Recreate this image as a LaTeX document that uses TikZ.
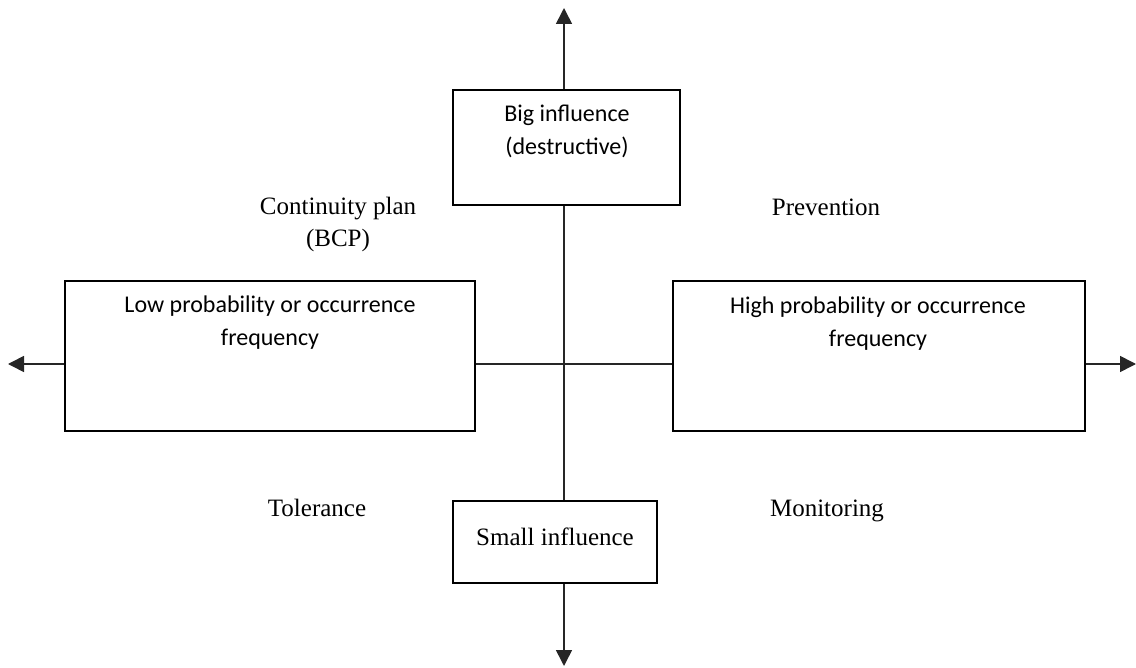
\documentclass[tikz,border=0pt]{standalone}
\usepackage{fontspec}
\setmainfont{Liberation Serif}
\newfontfamily\boxfont{Carlito}
\usetikzlibrary{arrows.meta}
\begin{document}
\begin{tikzpicture}[x=1pt,y=-1pt,
  boxnode/.style={draw=black,line width=1.3pt,rectangle,inner sep=0pt},
  boxtext/.style={font=\boxfont\fontsize{24}{33}\selectfont,align=center,inner sep=0pt},
  serifsmall/.style={font=\fontsize{25}{32}\selectfont,align=center,inner sep=0pt},
  axisline/.style={line width=1.6pt,draw=black!85},
  tipped/.style={axisline,-{Triangle[length=16pt,width=16pt]}}]
\useasboundingbox (0,0) rectangle (1136,668);
\coordinate (c) at (564,364);
\coordinate (tipT) at (564,8);
\coordinate (tipB) at (564,666);
\coordinate (tipL) at (8,364);
\coordinate (tipR) at (1136,364);
% boxes
\node[boxnode,minimum width=227pt,minimum height=115pt] (top) at (566.5,147.5) {};
\node[boxnode,minimum width=410pt,minimum height=150pt] (left) at (270,356) {};
\node[boxnode,minimum width=412pt,minimum height=150pt] (right) at (879,356) {};
\node[boxnode,minimum width=204pt,minimum height=82pt] (bot) at (555,542) {};
% box texts (base = baseline of last line)
\node[boxtext,anchor=base] (toptext) at (567,155) {Big influence\\(destructive)};
\node[boxtext,anchor=base] (lefttext) at (270,346) {Low probability or occurrence\\frequency};
\node[boxtext,anchor=base] (righttext) at (878,347) {High probability or occurrence\\frequency};
\node[serifsmall,anchor=base] (bottext) at (555,545) {Small influence};
% quadrant labels
\node[serifsmall,anchor=base] (q1) at (338,247) {Continuity plan\\(BCP)};
\node[serifsmall,anchor=base] (q2) at (826,216) {Prevention};
\node[serifsmall,anchor=base] (q3) at (317,516) {Tolerance};
\node[serifsmall,anchor=base] (q4) at (827,516) {Monitoring};
% axes
\draw[tipped] (top.north -| c) -- (tipT);
\draw[axisline] (top.south -| c) -- (bot.north -| c);
\draw[tipped] (bot.south -| c) -- (tipB);
\draw[tipped] (left.west |- c) -- (tipL);
\draw[axisline] (left.east |- c) -- (right.west |- c);
\draw[tipped] (right.east |- c) -- (tipR);
\end{tikzpicture}
\end{document}
